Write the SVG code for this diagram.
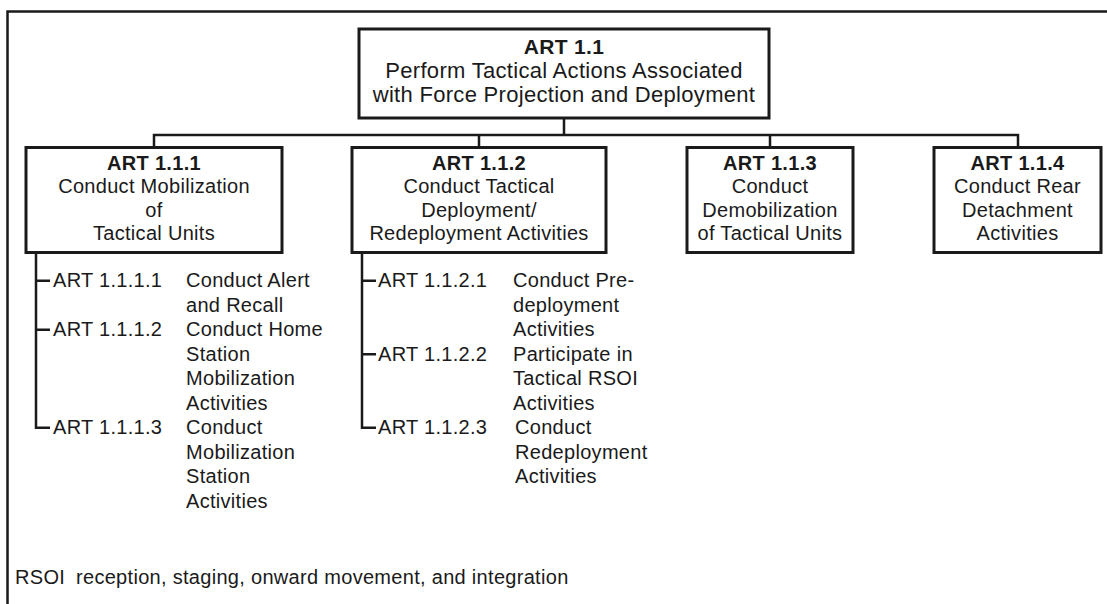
<svg xmlns="http://www.w3.org/2000/svg" width="1107" height="604" viewBox="0 0 1107 604">
<style>
text{font-family:"Liberation Sans",Arial,sans-serif;font-size:20px;fill:#1a1a1a;letter-spacing:0.3px}
.c{text-anchor:middle}
.b{font-weight:bold}
.t{font-size:22px}
.box{fill:#fff;stroke:#1a1a1a;stroke-width:3}
.ln{fill:none;stroke:#1a1a1a;stroke-width:2.5}
</style>
<rect width="1107" height="604" fill="#fff"/>
<path class="ln" d="M7.5,604 V11.5 H1107"/>
<g id="connectors">
<path class="ln" d="M564,118 V135 M154,147 V135 H1018 V147 M479,135 V147 M770,135 V147"/>
<path class="ln" d="M36,253 V427.7 H50 M36,280.7 H50 M36,329.7 H50"/>
<path class="ln" d="M362,253 V427.7 H376 M362,280.7 H376 M362,354.2 H376"/>
</g>
<g id="art11">
<rect class="box" x="359" y="29" width="410" height="89"/>
<text class="c b" x="564" y="54" style="font-size:21px">ART 1.1</text>
<text class="c t" x="564" y="78">Perform Tactical Actions Associated</text>
<text class="c t" x="564" y="102">with Force Projection and Deployment</text>
</g>
<g id="art111">
<rect class="box" x="26" y="147.5" width="256" height="105"/>
<text class="c b" x="154" y="169.5">ART 1.1.1</text>
<text class="c" x="154" y="193">Conduct Mobilization</text>
<text class="c" x="154" y="216.5">of</text>
<text class="c" x="154" y="240">Tactical Units</text>
</g>
<g id="art112">
<rect class="box" x="352" y="147.5" width="254" height="105"/>
<text class="c b" x="479" y="169.5">ART 1.1.2</text>
<text class="c" x="479" y="193">Conduct Tactical</text>
<text class="c" x="479" y="216.5">Deployment/</text>
<text class="c" x="479" y="240">Redeployment Activities</text>
</g>
<g id="art113">
<rect class="box" x="687" y="147.5" width="166" height="105"/>
<text class="c b" x="770" y="169.5">ART 1.1.3</text>
<text class="c" x="770" y="193">Conduct</text>
<text class="c" x="770" y="216.5">Demobilization</text>
<text class="c" x="770" y="240">of Tactical Units</text>
</g>
<g id="art114">
<rect class="box" x="934" y="147.5" width="167" height="105"/>
<text class="c b" x="1017.5" y="169.5">ART 1.1.4</text>
<text class="c" x="1017.5" y="193">Conduct Rear</text>
<text class="c" x="1017.5" y="216.5">Detachment</text>
<text class="c" x="1017.5" y="240">Activities</text>
</g>
<g id="art1111">
<text x="53" y="287.3">ART 1.1.1.1</text>
<text x="186" y="287.3">Conduct Alert</text>
<text x="186" y="311.8">and Recall</text>
</g>
<g id="art1112">
<text x="53" y="336.3">ART 1.1.1.2</text>
<text x="186" y="336.3">Conduct Home</text>
<text x="186" y="360.8">Station</text>
<text x="186" y="385.3">Mobilization</text>
<text x="186" y="409.8">Activities</text>
</g>
<g id="art1113">
<text x="53" y="434.3">ART 1.1.1.3</text>
<text x="186" y="434.3">Conduct</text>
<text x="186" y="458.8">Mobilization</text>
<text x="186" y="483.3">Station</text>
<text x="186" y="507.8">Activities</text>
</g>
<g id="art1121">
<text x="378" y="287.3">ART 1.1.2.1</text>
<text x="513" y="287.3">Conduct Pre-</text>
<text x="513" y="311.8">deployment</text>
<text x="513" y="336.3">Activities</text>
</g>
<g id="art1122">
<text x="378" y="360.8">ART 1.1.2.2</text>
<text x="513" y="360.8">Participate in</text>
<text x="513" y="385.3">Tactical RSOI</text>
<text x="513" y="409.8">Activities</text>
</g>
<g id="art1123">
<text x="378" y="434.3">ART 1.1.2.3</text>
<text x="515" y="434.3">Conduct</text>
<text x="515" y="458.8">Redeployment</text>
<text x="515" y="483.3">Activities</text>
</g>
<g id="legend">
<text x="15" y="584">RSOI</text>
<text x="76" y="584">reception, staging, onward movement, and integration</text>
</g>
</svg>
